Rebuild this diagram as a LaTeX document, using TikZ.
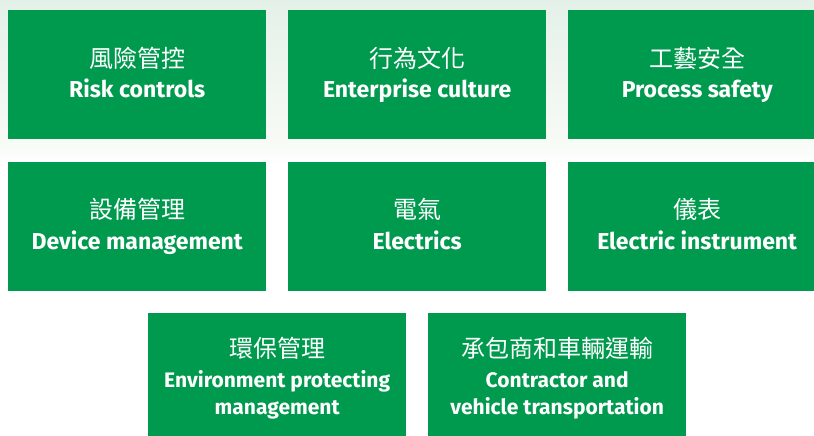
\documentclass[tikz,border=0pt]{standalone}
\usepackage{fontspec}
\newfontfamily\enfont{Fira Sans}
\newfontfamily\cjk{Noto Sans CJK TC}
\definecolor{boxgreen}{HTML}{009A4E}
\definecolor{bgtop}{HTML}{E4F1E8}
\definecolor{bgmid}{HTML}{F7FAF5}
\begin{document}
\begin{tikzpicture}[x=1pt,y=-1pt,
  card/.style={fill=boxgreen, draw=none, minimum width=258pt, minimum height=129pt, anchor=north west, inner sep=0pt},
  zh/.style={text=white, font=\cjk\fontsize{24}{28}\selectfont, anchor=base, inner sep=0pt},
  en/.style={text=white, font=\enfont\bfseries\fontsize{23}{27}\selectfont, anchor=base, inner sep=0pt},
  ensmall/.style={en, font=\enfont\bfseries\fontsize{21}{25}\selectfont}]
\useasboundingbox (0,0) rectangle (814,436);
\shade[top color=bgtop, bottom color=bgmid] (0,0) rectangle (814,140);
\shade[top color=bgmid, bottom color=white] (0,140) rectangle (814,165);
\begin{scope}
\clip (0,0) rectangle (814,436);
% row 1
\node[card] (b1) at (8,10) {};
\node[card] (b2) at (288,10) {};
\node[card] (b3) at (568,10) {};
% row 2
\node[card] (b4) at (8,162) {};
\node[card] (b5) at (288,162) {};
\node[card] (b6) at (568,162) {};
% row 3
\node[card] (b7) at (148,313) {};
\node[card] (b8) at (428,313) {};
\end{scope}
% texts row 1 and 2
\node[zh] (t1z) at ([yshift=-57pt]b1.north) {風險管控};
\node[en] (t1e) at ([yshift=-88pt]b1.north) {Risk controls};
\node[zh] (t2z) at ([yshift=-57pt]b2.north) {行為文化};
\node[en] (t2e) at ([yshift=-88pt]b2.north) {Enterprise culture};
\node[zh] (t3z) at ([yshift=-57pt]b3.north) {工藝安全};
\node[en] (t3e) at ([yshift=-88pt]b3.north) {Process safety};
\node[zh] (t4z) at ([yshift=-56pt]b4.north) {設備管理};
\node[en] (t4e) at ([yshift=-87pt]b4.north) {Device management};
\node[zh] (t5z) at ([yshift=-56pt]b5.north) {電氣};
\node[en] (t5e) at ([yshift=-87pt]b5.north) {Electrics};
\node[zh] (t6z) at ([yshift=-56pt]b6.north) {儀表};
\node[en] (t6e) at ([yshift=-87pt]b6.north) {Electric instrument};
% row 3
\node[zh] (t7z) at ([yshift=-44pt]b7.north) {環保管理};
\node[ensmall] (t7e) at ([yshift=-74pt]b7.north) {Environment protecting};
\node[ensmall] (t7f) at ([yshift=-101pt]b7.north) {management};
\node[zh] (t8z) at ([yshift=-44pt]b8.north) {承包商和車輛運輸};
\node[ensmall] (t8e) at ([yshift=-74pt]b8.north) {Contractor and};
\node[ensmall] (t8f) at ([yshift=-101pt]b8.north) {vehicle transportation};
\end{tikzpicture}
\end{document}
